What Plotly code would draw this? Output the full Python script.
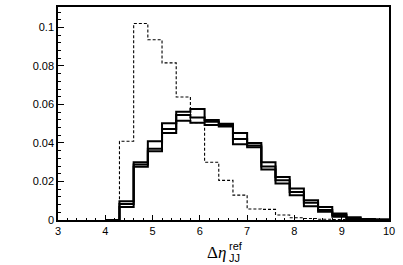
import plotly.graph_objects as go

# Bin edges (Δη_JJ^ref), 0.3-wide bins
edges = [4.0, 4.3, 4.6, 4.9, 5.2, 5.5, 5.8, 6.1, 6.4, 6.7, 7.0, 7.3, 7.6, 7.9, 8.2, 8.5, 8.8, 9.1, 9.4, 9.7, 10.0]

solid_a = [0, 0.0098, 0.0300, 0.0409, 0.0502, 0.0562, 0.0576, 0.0519, 0.0500, 0.0452,
           0.0400, 0.0300, 0.0223, 0.0163, 0.0103, 0.0067, 0.0034, 0.0014, 0.0005, 0.0002]
solid_b = [0, 0.0083, 0.0288, 0.0370, 0.0473, 0.0545, 0.0532, 0.0510, 0.0493, 0.0421,
           0.0387, 0.0278, 0.0206, 0.0146, 0.0089, 0.0052, 0.0026, 0.0009, 0.0003, 0.0001]
solid_c = [0, 0.0067, 0.0277, 0.0357, 0.0452, 0.0515, 0.0505, 0.0493, 0.0485, 0.0393,
           0.0378, 0.0262, 0.0189, 0.0129, 0.0072, 0.0043, 0.0017, 0.0004, 0.0002, 0.0001]
dashed = [0, 0.0409, 0.1020, 0.0936, 0.0816, 0.0639, 0.0505, 0.0300, 0.0206, 0.0129,
          0.0057, 0.0055, 0.0026, 0.0012, 0.0008, 0.0004, 0.0002, 0.0001, 0, 0]

x_ticks = [3, 4, 5, 6, 7, 8, 9, 10]
y_ticks = [0, 0.02, 0.04, 0.06, 0.08, 0.1]


def step(vals):
    return list(edges), list(vals) + [vals[-1]]


fig = go.Figure()
for vals in (solid_a, solid_b, solid_c):
    xs, ys = step(vals)
    fig.add_trace(go.Scatter(x=xs, y=ys, mode="lines", line_shape="hv",
                             line=dict(color="black", width=2), showlegend=False))
xs, ys = step(dashed)
fig.add_trace(go.Scatter(x=xs, y=ys, mode="lines", line_shape="hv",
                         line=dict(color="black", width=1.1, dash="3px,2px"), showlegend=False))

axis_common = dict(showline=True, linecolor="black", linewidth=1.5, mirror=True,
                   ticks="inside", tickcolor="black", tickwidth=1, showgrid=False,
                   zeroline=False,
                   tickfont=dict(family="Liberation Sans, Arial, sans-serif", size=11, color="black"))

fig.update_layout(
    width=403, height=265,
    margin=dict(l=58, r=14, t=5, b=45),
    paper_bgcolor="white", plot_bgcolor="white",
    xaxis=dict(range=[3, 10], tickvals=x_ticks, ticklen=5,
               minor=dict(dtick=0.2, tick0=3, ticks="inside", ticklen=2.5, tickcolor="black", showgrid=False),
               **axis_common),
    yaxis=dict(range=[0, 0.1106], tickvals=y_ticks, ticklen=6,
               minor=dict(dtick=0.004, tick0=0, ticks="inside", ticklen=3, tickcolor="black", showgrid=False),
               **axis_common),
    annotations=[
        dict(text="Δ<i>η</i>", xref="paper", yref="paper", x=0.478, y=-0.154,
             xanchor="center", yanchor="middle", showarrow=False,
             font=dict(family="Liberation Serif, Times New Roman, serif", size=17, color="black")),
        dict(text="ref", xref="paper", yref="paper", x=0.511, y=-0.121,
             xanchor="left", yanchor="middle", showarrow=False,
             font=dict(family="Liberation Sans, Arial, sans-serif", size=11, color="black")),
        dict(text="JJ", xref="paper", yref="paper", x=0.511, y=-0.177,
             xanchor="left", yanchor="middle", showarrow=False,
             font=dict(family="Liberation Sans, Arial, sans-serif", size=11, color="black")),
    ],
)

fig.write_html("out.html", config={"displayModeBar": False},
               post_script="document.body.style.margin='0';document.body.style.overflow='hidden';")
